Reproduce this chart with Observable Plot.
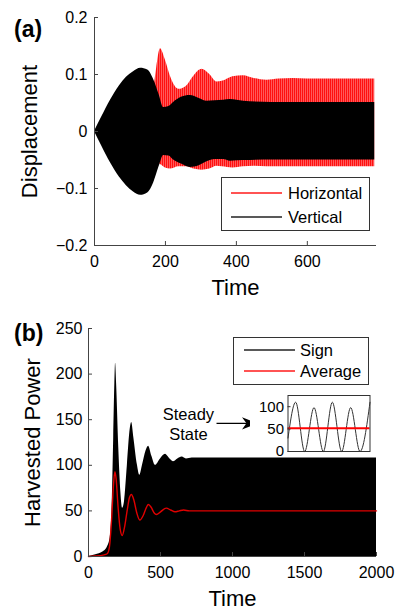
<!DOCTYPE html>
<html>
<head>
<meta charset="utf-8">
<script src="https://cdn.jsdelivr.net/npm/d3@7"></script>
<script src="https://cdn.jsdelivr.net/npm/@observablehq/plot@0.6"></script>
<style>
  html, body { margin: 0; padding: 0; background: #fff; }
  #wrap { position: relative; width: 398px; height: 611px; overflow: hidden; font-family: "Liberation Sans", Arial, sans-serif; color: #000; }
  #wrap svg { position: absolute; overflow: visible; }
</style>
</head>
<body>
<div id="wrap"></div>
<script>
// ---------- Panel (a): Displacement envelopes ----------
const vertT  = [0, 20, 45, 70, 90, 110, 130, 150, 167, 182, 195, 210, 223, 245, 270, 295, 317, 340, 364, 383, 420, 500, 600, 700, 790];
const vertHi = [0, 0.025, 0.055, 0.08, 0.095, 0.105, 0.111, 0.108, 0.091, 0.065, 0.042, 0.044, 0.051, 0.06, 0.063, 0.058, 0.053, 0.054, 0.055, 0.056, 0.053, 0.051, 0.051, 0.051, 0.051];
const vertLo = [0, -0.025, -0.055, -0.08, -0.095, -0.106, -0.112, -0.108, -0.09, -0.062, -0.042, -0.043, -0.05, -0.057, -0.063, -0.06, -0.053, -0.049, -0.049, -0.052, -0.051, -0.05, -0.05, -0.05, -0.05];

const horT  = [165, 175, 186, 200, 214, 238, 260, 280, 303, 325, 345, 360, 390, 420, 450, 486, 520, 560, 600, 700, 790];
const horHi = [0.06, 0.11, 0.145, 0.125, 0.097, 0.074, 0.08, 0.097, 0.109, 0.1, 0.087, 0.088, 0.096, 0.098, 0.093, 0.09, 0.092, 0.093, 0.092, 0.092, 0.092];
const horLo = [-0.05, -0.055, -0.058, -0.064, -0.066, -0.062, -0.062, -0.066, -0.068, -0.066, -0.061, -0.062, -0.064, -0.062, -0.061, -0.062, -0.062, -0.062, -0.062, -0.062, -0.062];

const xTicksA = [0, 200, 400, 600];
const yTicksA = [-0.2, -0.1, 0, 0.1, 0.2];
const legendA = ["Horizontal", "Vertical"];

// ---------- Panel (b): Harvested power ----------
const signT  = [0, 50, 100, 130, 150, 165, 175, 183, 188, 195, 210, 225, 237, 250, 270, 290, 300, 315, 340, 356, 375, 400, 417, 440, 465, 500, 535, 560, 590, 620, 650, 680, 720, 1000, 1500, 2000];
const signHi = [0, 2, 5, 10, 20, 60, 130, 190, 212, 190, 120, 70, 53, 60, 100, 140, 147, 130, 100, 89, 100, 116, 121, 110, 100, 107, 112, 108, 104, 107, 109, 107, 108, 108, 108, 108];

const avgT = [0, 50, 100, 130, 145, 160, 172, 183, 192, 205, 220, 234, 250, 270, 285, 298, 315, 335, 356, 380, 400, 415, 435, 455, 472, 500, 540, 570, 600, 630, 660, 700, 1000, 1500, 2000];
const avgV = [0, 0.5, 1.5, 3, 10, 40, 75, 93, 85, 55, 30, 23, 32, 52, 65, 68, 62, 48, 40, 45, 53, 57, 54, 48, 46, 49, 53, 51, 49, 50, 51, 50, 50, 50, 50];

const xTicksB = [0, 500, 1000, 1500, 2000];
const yTicksB = [0, 50, 100, 150, 200, 250];
const legendB = ["Sign", "Average"];

// Inset (steady state zoom): peaks and troughs
const insetT = [0, 23, 50, 78, 106, 133, 161, 188, 216, 246];
const insetV = [30, 110, 0, 98, 0, 110, 0, 98, 0, 110];
const insetAvg = 52;
const insetTicks = [0, 50, 100];

// Annotation
const noteText = ["Steady\nState"];
const noteX = 694, noteY = 146;
const arrowFrom = [889, 146], arrowTo = [1174, 146];

// ---------- Build tables ----------
const vertData = vertT.map((t, i) => ({t, hi: vertHi[i], lo: vertLo[i]}));
const horData  = horT.map((t, i) => ({t, hi: horHi[i], lo: horLo[i]}));
const signData = signT.map((t, i) => ({t, v: signHi[i]}));
const avgData  = avgT.map((t, i) => ({t, v: avgV[i]}));
const insetData = insetT.map((t, i) => ({t, v: insetV[i]}));

const fmt = d => d === 0 ? "0" : (d < 0 ? "\u2212" : "") + Math.abs(d);
const FONT = "Liberation Sans, Arial, sans-serif";
const axisCol = "#444";
const RED = "#ff1a1a";

const wrap = document.getElementById("wrap");

// Panel (a)
const plotA = Plot.plot({
  width: 398, height: 300,
  marginLeft: 94, marginRight: 22, marginTop: 17, marginBottom: 55,
  x: {domain: [0, 795]},
  y: {domain: [-0.2, 0.2]},
  style: {fontFamily: FONT, fontSize: "16px", color: "#000", background: "transparent", overflow: "visible"},
  marks: [
    Plot.areaY(horData, {x: "t", y1: "lo", y2: "hi", fill: "url(#redStripes)", curve: "monotone-x"}),
    Plot.areaY(vertData, {x: "t", y1: "lo", y2: "hi", fill: "#000", curve: "monotone-x"}),
    Plot.ruleX([0], {stroke: axisCol}),
    Plot.ruleY([-0.2], {stroke: axisCol}),
    Plot.axisX({ticks: xTicksA, tickFormat: fmt, tickSize: -4, tickPadding: 14, stroke: axisCol, label: null, fontSize: 16}),
    Plot.axisY({ticks: yTicksA, tickFormat: fmt, tickSize: -4, tickPadding: 11, stroke: axisCol, label: null, fontSize: 16}),
    Plot.text(["Time"], {frameAnchor: "bottom", lineAnchor: "middle", textAnchor: "middle", dy: 42, fontSize: 22}),
    Plot.text(["Displacement"], {frameAnchor: "left", textAnchor: "middle", lineAnchor: "middle", dx: -65, rotate: -90, fontSize: 22})
  ]
});
plotA.style.left = "0px"; plotA.style.top = "0px";
const defs = d3.select(plotA).insert("defs", ":first-child");
const pat = defs.append("pattern").attr("id", "redStripes").attr("patternUnits", "userSpaceOnUse")
  .attr("width", 2).attr("height", 10);
pat.append("rect").attr("width", 2).attr("height", 10).attr("fill", "#ff7a7a");
pat.append("rect").attr("width", 1.3).attr("height", 10).attr("fill", "#ff1010");
wrap.appendChild(plotA);

// Panel (b)
const plotB = Plot.plot({
  width: 398, height: 311,
  marginLeft: 88, marginRight: 22, marginTop: 28, marginBottom: 55,
  x: {domain: [0, 2000]},
  y: {domain: [0, 250]},
  style: {fontFamily: FONT, fontSize: "16px", color: "#000", background: "transparent", overflow: "visible"},
  marks: [
    Plot.areaY(signData, {x: "t", y: "v", fill: "#000", curve: "monotone-x"}),
    Plot.line(avgData, {x: "t", y: "v", stroke: "#e00000", strokeWidth: 1.4, curve: "monotone-x"}),
    Plot.ruleX([0], {stroke: axisCol}),
    Plot.ruleY([0], {stroke: axisCol}),
    Plot.axisX({ticks: xTicksB, tickFormat: fmt, tickSize: -4, tickPadding: 14, stroke: axisCol, label: null, fontSize: 16}),
    Plot.axisY({ticks: yTicksB, tickFormat: fmt, tickSize: -4, tickPadding: 10, stroke: axisCol, label: null, fontSize: 16}),
    Plot.text(["Time"], {frameAnchor: "bottom", lineAnchor: "middle", textAnchor: "middle", dy: 42.5, fontSize: 22}),
    Plot.text(["Harvested Power"], {frameAnchor: "left", textAnchor: "middle", lineAnchor: "middle", dx: -56, rotate: -90, fontSize: 22}),
    Plot.text(noteText, {x: noteX, y: noteY, fontSize: 16.5, lineHeight: 1.2}),
    Plot.link([0], {x1: arrowFrom[0], y1: arrowFrom[1], x2: arrowTo[0], y2: arrowTo[1], stroke: "#000", strokeWidth: 1.2})
  ]
});
plotB.style.left = "0px"; plotB.style.top = "300px";
const defsB = d3.select(plotB).insert("defs", ":first-child");
defsB.append("marker").attr("id", "ahead").attr("markerUnits", "userSpaceOnUse")
  .attr("markerWidth", 20).attr("markerHeight", 20).attr("refX", 0).attr("refY", 0)
  .attr("viewBox", "-16 -8 18 16").attr("orient", "auto")
  .append("path").attr("d", "M0,0L-14,-5.5L-10,0L-14,5.5Z").attr("fill", "#000");
d3.select(plotB).selectAll("g[aria-label=link] path").attr("marker-end", "url(#ahead)");
wrap.appendChild(plotB);

// Inset
const inset = Plot.plot({
  width: 122, height: 66,
  marginLeft: 37.5, marginRight: 2.5, marginTop: 5, marginBottom: 5,
  x: {domain: [0, 246], axis: null},
  y: {domain: [0, 125]},
  style: {fontFamily: FONT, fontSize: "15px", color: "#000", background: "#fff", overflow: "visible"},
  marks: [
    Plot.line(insetData, {x: "t", y: "v", stroke: "#333", strokeWidth: 1, curve: "monotone-x"}),
    Plot.ruleY([insetAvg], {stroke: "#ff0000", strokeWidth: 2}),
    Plot.frame({stroke: "#333"}),
    Plot.axisY({ticks: insetTicks, tickFormat: fmt, tickSize: -3, tickPadding: 7, stroke: "#333", label: null, fontSize: 15})
  ]
});
inset.style.left = "250px"; inset.style.top = "390px";
wrap.appendChild(inset);

// Overlay SVG for legends and panel letters
const ov = d3.create("svg").attr("width", 398).attr("height", 611)
  .style("left", "0px").style("top", "0px").style("font-family", FONT);
function legend(x, y, w, h, items) {
  ov.append("rect").attr("x", x + 0.5).attr("y", y + 0.5).attr("width", w).attr("height", h)
    .attr("fill", "#fff").attr("stroke", "#333").attr("stroke-width", 1);
  for (const it of items) {
    ov.append("line").attr("x1", it.x1).attr("x2", it.x2).attr("y1", it.y).attr("y2", it.y)
      .attr("stroke", it.color).attr("stroke-width", 1.3);
    ov.append("text").attr("x", it.tx).attr("y", it.y).attr("dy", "0.35em")
      .attr("font-size", 16.5).attr("fill", "#000").text(it.label);
  }
}
legend(221, 177, 148, 53, [
  {label: legendA[0], color: RED, x1: 231, x2: 282, tx: 288, y: 193},
  {label: legendA[1], color: "#222", x1: 231, x2: 282, tx: 288, y: 217}
]);
legend(233, 337, 135, 47, [
  {label: legendB[0], color: "#222", x1: 244, x2: 295, tx: 300, y: 350},
  {label: legendB[1], color: RED, x1: 244, x2: 295, tx: 300, y: 371}
]);
for (const [txt, x, y] of [["(a)", 14, 29], ["(b)", 14, 333]]) {
  ov.append("text").attr("x", x).attr("y", y).attr("dy", "0.35em")
    .attr("font-size", 23).attr("font-weight", "bold").attr("fill", "#000").text(txt);
}
wrap.appendChild(ov.node());
</script>
</body>
</html>
